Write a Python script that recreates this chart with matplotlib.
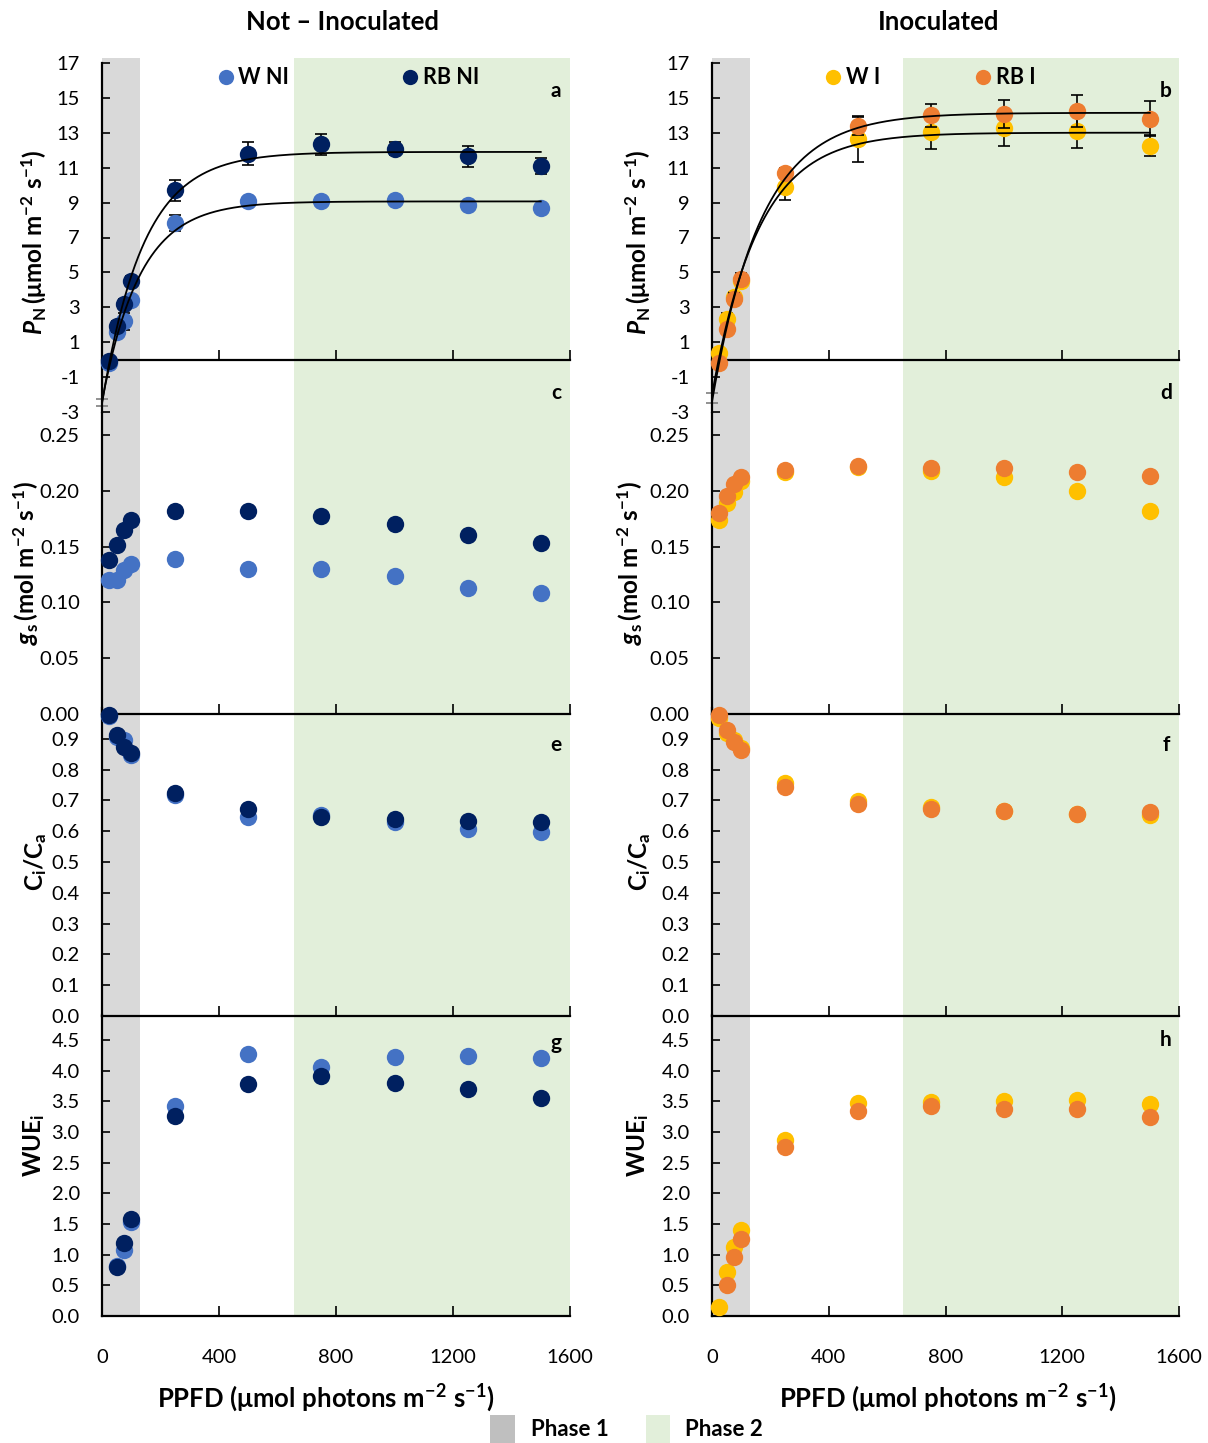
import numpy as np
import matplotlib
matplotlib.use("Agg")
import matplotlib.pyplot as plt
from matplotlib.patches import Rectangle

plt.rcParams['font.family'] = ['Lato', 'DejaVu Sans']
plt.rcParams['mathtext.fontset'] = 'custom'
plt.rcParams['mathtext.rm'] = 'Lato'
plt.rcParams['mathtext.it'] = 'Lato:italic'
plt.rcParams['mathtext.bf'] = 'Lato:bold'
plt.rcParams['mathtext.bfit'] = 'Lato:italic:bold'
plt.rcParams['mathtext.sf'] = 'Lato'
plt.rcParams['mathtext.fallback'] = 'stixsans'

# ---------------- data ----------------
ppfd = [25, 50, 75, 100, 250, 500, 750, 1000, 1250, 1500]
ppfd_dark = [0]

# Net photosynthesis P_N
pn_w_ni = [-0.2, 1.6, 2.2, 3.4, 7.85, 9.1, 9.1, 9.15, 8.87, 8.7]
pn_w_ni_err = [0.15, 0.3, 0.5, 0.3, 0.45, 0.15, 0.15, 0.15, 0.15, 0.15]
pn_rb_ni = [-0.1, 1.9, 3.2, 4.5, 9.7, 11.8, 12.35, 12.1, 11.65, 11.1]
pn_rb_ni_err = [0.2, 0.3, 0.3, 0.3, 0.6, 0.65, 0.6, 0.35, 0.6, 0.45]
pn_w_i = [0.4, 2.35, 3.6, 4.5, 9.9, 12.65, 13.05, 13.25, 13.1, 12.25]
pn_w_i_err = [0.2, 0.3, 0.3, 0.3, 0.75, 1.3, 1.0, 1.0, 0.95, 0.6]
pn_rb_i = [-0.2, 1.75, 3.5, 4.65, 10.7, 13.4, 14.0, 14.1, 14.25, 13.8]
pn_rb_i_err = [0.2, 0.25, 0.3, 0.3, 0.3, 0.5, 0.65, 0.8, 0.9, 1.0]
pn_dark_ni = [-2.45]
pn_dark_ni_err = [0.2]
pn_dark_i = [-2.2]
pn_dark_i_err = [0.3]

# Stomatal conductance g_s
gs_w_ni = [0.120, 0.120, 0.129, 0.134, 0.139, 0.130, 0.130, 0.124, 0.113, 0.108]
gs_rb_ni = [0.138, 0.151, 0.165, 0.174, 0.182, 0.182, 0.177, 0.170, 0.160, 0.153]
gs_w_i = [0.174, 0.189, 0.199, 0.209, 0.217, 0.221, 0.218, 0.212, 0.200, 0.182]
gs_rb_i = [0.180, 0.195, 0.206, 0.212, 0.219, 0.222, 0.220, 0.220, 0.217, 0.213]

# Ci/Ca
cica_w_ni = [0.975, 0.905, 0.897, 0.848, 0.718, 0.645, 0.654, 0.629, 0.607, 0.597]
cica_rb_ni = [0.978, 0.911, 0.875, 0.853, 0.724, 0.672, 0.645, 0.640, 0.633, 0.630]
cica_w_i = [0.967, 0.918, 0.895, 0.870, 0.756, 0.697, 0.678, 0.667, 0.657, 0.654]
cica_rb_i = [0.978, 0.929, 0.891, 0.864, 0.742, 0.688, 0.672, 0.667, 0.657, 0.661]

# WUEi
wue_w_ni = [np.nan, 0.82, 1.08, 1.53, 3.43, 4.27, 4.06, 4.22, 4.24, 4.21]
wue_rb_ni = [np.nan, 0.80, 1.19, 1.58, 3.26, 3.78, 3.92, 3.80, 3.70, 3.56]
wue_w_i = [0.15, 0.72, 1.13, 1.40, 2.87, 3.48, 3.49, 3.50, 3.53, 3.45]
wue_rb_i = [np.nan, 0.51, 0.97, 1.26, 2.76, 3.34, 3.43, 3.38, 3.38, 3.25]

phase1 = (0, 130)
phase2 = (655, 1610)

c_w_ni = '#4472C4'
c_rb_ni = '#002060'
c_w_i = '#FFC000'
c_rb_i = '#ED7D31'

# ---------------- layout helpers ----------------
W, H = 1208, 1443
fig = plt.figure(figsize=(W / 100, H / 100), dpi=100)


def box(x0, x1, ytop, ybot):
    return [x0 / W, 1 - ybot / H, (x1 - x0) / W, (ybot - ytop) / H]


def fit_curve(x, y):
    x = np.asarray(x, float)
    y = np.asarray(y, float)
    best = None
    for k in np.linspace(0.0005, 0.03, 1200):
        A = np.column_stack([1 - np.exp(-k * x), np.ones_like(x)])
        coef, res, *_ = np.linalg.lstsq(A, y, rcond=None)
        r = np.sum((A @ coef - y) ** 2)
        if best is None or r < best[0]:
            best = (r, k, coef)
    _, k, (a, c) = best
    xs = np.linspace(0, max(x), 400)
    return xs, a * (1 - np.exp(-k * xs)) + c


TICK_FS = 14.5
cols = {
    'L': dict(x0=102, x1=570),
    'R': dict(x0=712, x1=1179),
}

rows = {
    'pn': dict(top=63, bot=412, ylim=(-3, 17), ticks=np.arange(-3, 18, 2), fmt='{:.0f}'),
    'gs': dict(top=714 - 0.27 * 1116, bot=714, ylim=(0, 0.27), ticks=np.arange(0, 0.26, 0.05), fmt='{:.2f}'),
    'ci': dict(top=708, bot=1016, ylim=(0, 1.0), ticks=np.arange(0, 0.91, 0.1), fmt='{:.1f}'),
    'wue': dict(top=1316 - 4.9 * 61.33, bot=1316, ylim=(0, 4.9), ticks=np.arange(0, 4.51, 0.5), fmt='{:.1f}'),
}


def style_axes(ax, r, show_xlabels):
    ax.set_xlim(0, 1600)
    ax.set_ylim(*r['ylim'])
    ax.patch.set_alpha(0)
    for s in ['top', 'right']:
        ax.spines[s].set_visible(False)
    for s in ['left', 'bottom']:
        ax.spines[s].set_linewidth(1.6)
        ax.spines[s].set_color('black')
    ax.set_yticks(r['ticks'])
    ax.set_yticklabels([r['fmt'].format(t) for t in r['ticks']])
    ax.set_xticks([0, 400, 800, 1200, 1600])
    ax.tick_params(axis='y', direction='in', length=6, width=1.2, pad=16, labelsize=TICK_FS)
    ax.tick_params(axis='x', direction='in', length=7, width=1.2, pad=24, labelsize=TICK_FS,
                   labelbottom=show_xlabels)


def pts(ax, x, y, color, z=3):
    ax.plot(x, y, 'o', ms=12.5, color=color, mec='none', zorder=z, clip_on=False)


for side in ['L', 'R']:
    c = cols[side]
    # background phase bands
    bg = fig.add_axes(box(c['x0'], c['x1'], 58, 1316))
    bg.set_xlim(0, 1600)
    bg.set_ylim(0, 1)
    bg.axis('off')
    bg.set_zorder(-5)
    bg.axvspan(*phase1, color='#D9D9D9', lw=0)
    bg.axvspan(*phase2, color='#E2EFDA', lw=0)

    if side == 'L':
        w, rb = c_w_ni, c_rb_ni
        pw, pwe, prb, prbe = pn_w_ni, pn_w_ni_err, pn_rb_ni, pn_rb_ni_err
        pd, pde = pn_dark_ni, pn_dark_ni_err
        gw, grb = gs_w_ni, gs_rb_ni
        cw, crb = cica_w_ni, cica_rb_ni
        ww, wrb = wue_w_ni, wue_rb_ni
    else:
        w, rb = c_w_i, c_rb_i
        pw, pwe, prb, prbe = pn_w_i, pn_w_i_err, pn_rb_i, pn_rb_i_err
        pd, pde = pn_dark_i, pn_dark_i_err
        gw, grb = gs_w_i, gs_rb_i
        cw, crb = cica_w_i, cica_rb_i
        ww, wrb = wue_w_i, wue_rb_i

    # ---- P_N panel
    r = rows['pn']
    ax = fig.add_axes(box(c['x0'], c['x1'], r['top'], r['bot']))
    style_axes(ax, r, False)
    ax.spines['bottom'].set_position(('data', 0))
    ax.errorbar(ppfd_dark, pd, yerr=pde, fmt='none', ecolor='#7F7F7F', elinewidth=1.2,
                capsize=4, capthick=1.2, zorder=2, clip_on=False)
    for y, e, col, z in [(pw, pwe, w, 3), (prb, prbe, rb, 4)]:
        ax.errorbar(ppfd, y, yerr=e, fmt='none', ecolor='black', elinewidth=1.2,
                    capsize=4, capthick=1.2, zorder=z - 0.5)
        pts(ax, ppfd, y, col, z)
        xs, ys = fit_curve(ppfd_dark + ppfd, pd + y)
        ax.plot(xs, ys, color='black', lw=1.3, zorder=5, clip_on=False)

    # ---- g_s panel
    r = rows['gs']
    ax = fig.add_axes(box(c['x0'], c['x1'], r['top'], r['bot']))
    style_axes(ax, r, False)
    pts(ax, ppfd, gw, w, 3)
    pts(ax, ppfd, grb, rb, 4)

    # ---- Ci/Ca panel
    r = rows['ci']
    ax = fig.add_axes(box(c['x0'], c['x1'], r['top'], r['bot']))
    style_axes(ax, r, False)
    pts(ax, ppfd, cw, w, 3)
    pts(ax, ppfd, crb, rb, 4)

    # ---- WUE panel
    r = rows['wue']
    ax = fig.add_axes(box(c['x0'], c['x1'], r['top'], r['bot']))
    style_axes(ax, r, True)
    ax.set_xticklabels(['0', '400', '800', '1200', '1600'])
    pts(ax, ppfd, ww, w, 3)
    pts(ax, ppfd, wrb, rb, 4)

# ---------------- overlay text (pixel coordinates) ----------------
ov = fig.add_axes([0, 0, 1, 1])
ov.set_xlim(0, W)
ov.set_ylim(H, 0)
ov.axis('off')
ov.set_zorder(10)

ov.text(343, 22, 'Not – Inoculated', ha='center', va='center', fontsize=18.5, fontweight='bold')
ov.text(939, 22, 'Inoculated', ha='center', va='center', fontsize=18.5, fontweight='bold')

for mx, tx, col, lab in [(226, 238, c_w_ni, 'W NI'), (410, 423, c_rb_ni, 'RB NI'),
                         (833, 846, c_w_i, 'W I'), (983, 996, c_rb_i, 'RB I')]:
    ov.plot([mx], [77], 'o', ms=11, color=col, mec='none')
    ov.text(tx, 77, lab, ha='left', va='center', fontsize=15.5, fontweight='bold')

for x, y, s in [(556, 91, 'a'), (556, 393, 'c'), (556, 745, 'e'), (556, 1043, 'g'),
                (1166, 91, 'b'), (1166, 393, 'd'), (1166, 745, 'f'), (1166, 1040, 'h')]:
    ov.text(x, y, s, ha='center', va='center', fontsize=15, fontweight='bold')

ylab_pn = r'$\mathbfit{P}_{\mathbf{N}}\,\mathbf{(\mu mol\ m^{-2}\ s^{-1})}$'
ylab_gs = r'$\mathbfit{g}_{\mathbf{s}}\,\mathbf{(mol\ m^{-2}\ s^{-1})}$'
ylab_ci = r'$\mathbf{C_{i}/C_{a}}$'
ylab_wue = r'$\mathbf{WUE_{i}}$'
for xo in [0, 604]:
    ov.text(34 + xo, 242, ylab_pn, rotation=90, ha='center', va='center', fontsize=17.5)
    ov.text(26 + xo, 563, ylab_gs, rotation=90, ha='center', va='center', fontsize=17.5)
    ov.text(36 + xo, 862, ylab_ci, rotation=90, ha='center', va='center', fontsize=17.5)
    ov.text(34 + xo, 1145, ylab_wue, rotation=90, ha='center', va='center', fontsize=17.5)

xlab = r'$\mathbf{PPFD\ (\mu mol\ photons\ m^{-2}\ s^{-1})}$'
ov.text(326, 1398, xlab, ha='center', va='center', fontsize=18.5)
ov.text(948, 1398, xlab, ha='center', va='center', fontsize=18.5)

ov.add_patch(Rectangle((490, 1415), 25, 28, color='#BFBFBF', lw=0))
ov.text(531, 1430, 'Phase 1', ha='left', va='center', fontsize=16, fontweight='bold')
ov.add_patch(Rectangle((646, 1415), 24, 28, color='#E2EFDA', lw=0))
ov.text(685, 1430, 'Phase 2', ha='left', va='center', fontsize=16, fontweight='bold')

fig.savefig('out.png', dpi=100)
